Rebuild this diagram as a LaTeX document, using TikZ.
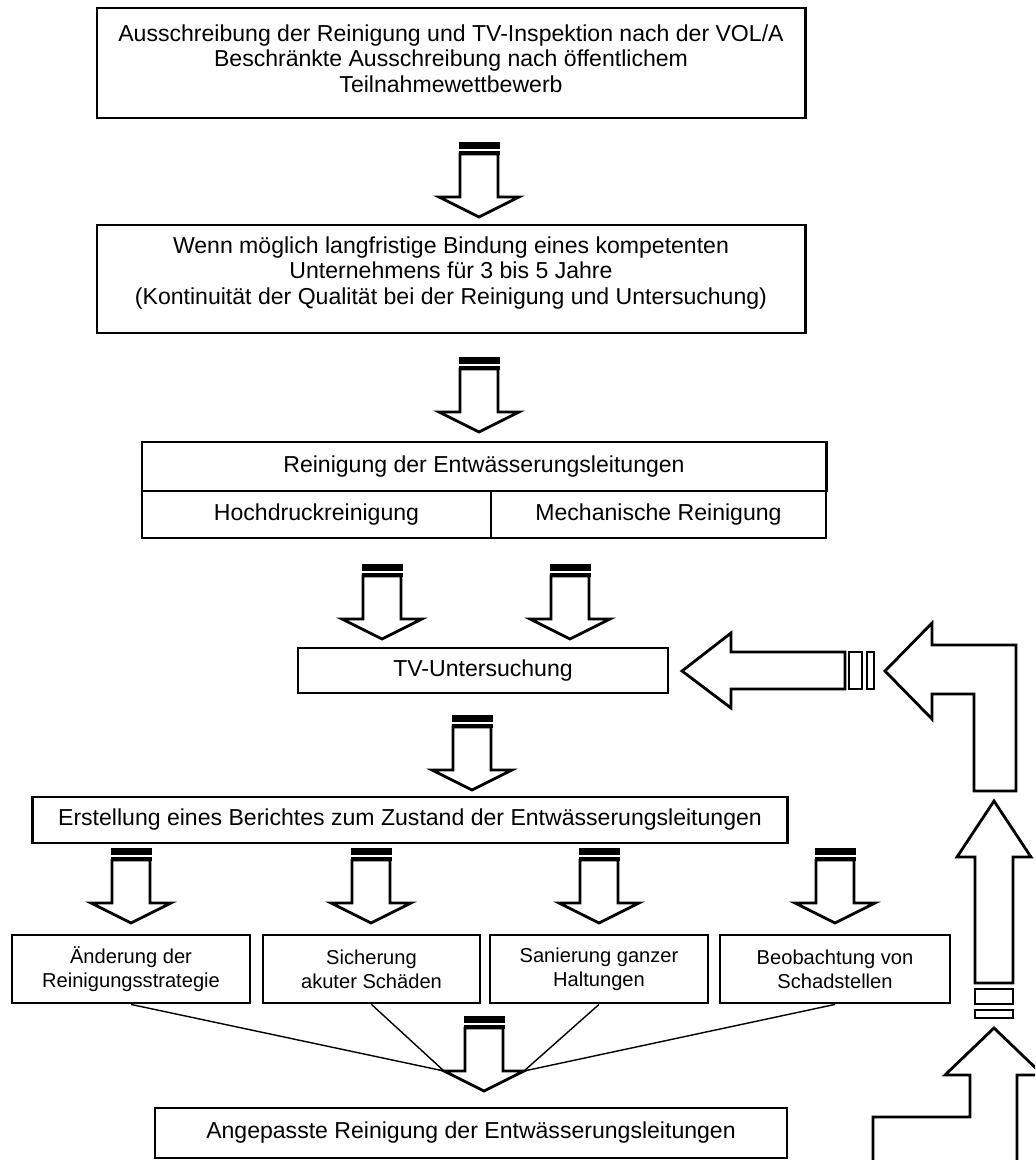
\documentclass[tikz,border=0pt]{standalone}
\usepackage{fontspec}
\setmainfont{Liberation Sans}

\tikzset{
  kasten/.style={draw, line width=2pt, inner sep=0pt, align=center,
    font=\fontsize{16.4}{18}\selectfont},
  kleinkasten/.style={kasten, font=\fontsize{14.3}{17}\selectfont},
  pfeil/.style={draw, line width=2pt, fill=white, line join=miter},
  faecher/.style={line width=1pt}
}

% Blockpfeil nach unten: Mitte x, Oberkante y
\newcommand{\pfeilrunter}[2]{%
  \draw[pfeil] (#1-19,#2+12) -- (#1-19,#2+55) -- (#1-40,#2+55) -- (#1,#2+75)
    -- (#1+40,#2+55) -- (#1+19,#2+55) -- (#1+19,#2+12) -- cycle;
  \fill (#1-20.5,#2) rectangle (#1+20.5,#2+7);
  \fill (#1-20.5,#2+9) rectangle (#1+20.5,#2+12.5);
}

\begin{document}
\begin{tikzpicture}[x=0.025cm, y=-0.025cm]
\useasboundingbox (0,0) rectangle (1035,1160);
\clip (0,0) rectangle (1035,1160);

% Kaesten
\node[kasten, minimum width=17.7cm, minimum height=2.75cm] (aus) at (451,63)
  {Ausschreibung der Reinigung und TV-Inspektion nach der VOL/A\\
   Beschränkte Ausschreibung nach öffentlichem\\
   Teilnahmewettbewerb\rule[-0.225cm]{0pt}{0pt}};
\node[kasten, minimum width=17.7cm, minimum height=2.7cm] (bindung) at (451,279)
  {Wenn möglich langfristige Bindung eines kompetenten\\
   Unternehmens für 3 bis 5 Jahre\\
   (Kontinuität der Qualität bei der Reinigung und Untersuchung)\rule[-0.42cm]{0pt}{0pt}};

\node[kasten, minimum width=17.1cm, minimum height=1.225cm] (reinigung) at (484,466.5)
  {Reinigung der Entwässerungsleitungen};
\node[kasten, minimum width=8.725cm, minimum height=1.175cm] (hochdruck) at (316.5,514.5)
  {Hochdruckreinigung};
\node[kasten, minimum width=8.375cm, minimum height=1.175cm] (mechanisch) at (658.5,514.5)
  {Mechanische Reinigung};

\node[kasten, minimum width=9.25cm, minimum height=1.125cm] (tv) at (483,670.5)
  {TV-Untersuchung};
\node[kasten, minimum width=18.85cm, minimum height=1.15cm] (bericht) at (410,820)
  {Erstellung eines Berichtes zum Zustand der Entwässerungsleitungen};

\node[kleinkasten, minimum width=5.95cm, minimum height=1.7cm] (aenderung) at (131,969)
  {Änderung der\\Reinigungsstrategie};
\node[kleinkasten, minimum width=5.425cm, minimum height=1.7cm] (sicherung) at (371.5,969)
  {Sicherung\\akuter Schäden};
\node[kleinkasten, minimum width=5.45cm, minimum height=1.7cm] (sanierung) at (599,969)
  {Sanierung ganzer\\Haltungen};
\node[kleinkasten, minimum width=5.75cm, minimum height=1.7cm] (beobachtung) at (835,969)
  {Beobachtung von\\Schadstellen};

\node[kasten, minimum width=15.8cm, minimum height=1.25cm] (angepasst) at (471,1133)
  {Angepasste Reinigung der Entwässerungsleitungen};

% Pfeile nach unten
\pfeilrunter{479}{142}
\pfeilrunter{479}{357}
\foreach \x in {382, 570}
  {\pfeilrunter{\x}{564}}
\pfeilrunter{472}{715}
\foreach \x in {131, 371, 599, 835}
  {\pfeilrunter{\x}{848}}
\pfeilrunter{484}{1016}

% Faecher zum letzten Pfeil
\coordinate (fl) at (444,1071);
\coordinate (fr) at (524,1071);
\draw[faecher] (aenderung.south) -- (fl);
\draw[faecher] (sicherung.south) -- (fl);
\draw[faecher] (sanierung.south) -- (fr);
\draw[faecher] (beobachtung.south) -- (fr);

% Rueckfuehrung
\draw[pfeil] (682,671) -- (731,633) -- (731,652) -- (845,652) -- (845,689)
  -- (731,689) -- (731,708) -- cycle;
\draw[pfeil] (849,652) rectangle (862,689);
\draw[pfeil] (867,652) rectangle (874,689);

\draw[pfeil] (885,671) -- (932,623) -- (932,645) -- (1016,645) -- (1016,791)
  -- (974,791) -- (974,694) -- (932,694) -- (932,719) -- cycle;

\draw[pfeil] (994,801) -- (1031,857) -- (1013,857) -- (1013,983) -- (975,983)
  -- (975,857) -- (957,857) -- cycle;
\draw[pfeil] (975,989) rectangle (1013,1004);
\draw[pfeil] (975,1010) rectangle (1013,1018);

\draw[pfeil] (994,1028) -- (1043,1075) -- (1017,1075) -- (1017,1175) -- (873,1175)
  -- (873,1117) -- (970,1117) -- (970,1075) -- (945,1075) -- cycle;

\end{tikzpicture}
\end{document}
